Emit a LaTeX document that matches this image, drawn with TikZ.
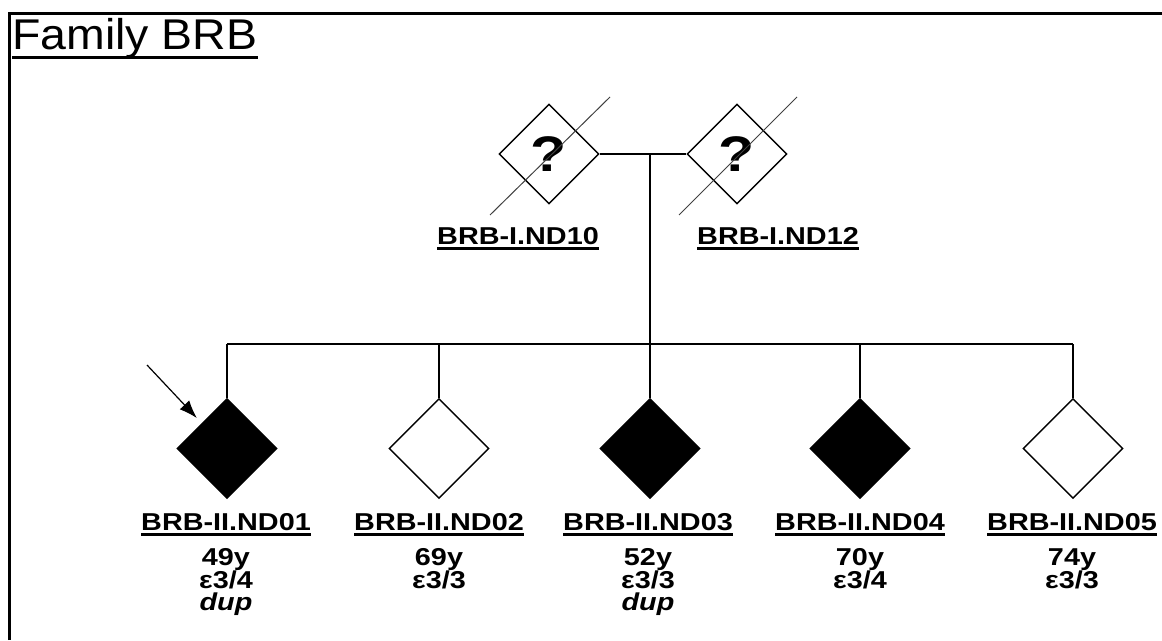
\documentclass[tikz,border=0pt]{standalone}
\usepackage{fontspec}
\usetikzlibrary{shapes.geometric,arrows.meta,calc}
\newfontfamily\titlefont[FakeStretch=1.08]{Liberation Sans}
\newfontfamily\labfont[FakeStretch=1.18]{Liberation Sans}

\begin{document}
\begin{tikzpicture}[x=1pt,y=-1pt,
  person/.style={diamond,draw,line width=1.4pt,minimum width=100pt,minimum height=100pt,
                 inner sep=0pt,aspect=1,fill=white},
  affected/.style={person,fill=black},
  conn/.style={line width=1.4pt},
  slash/.style={line width=1pt,black!75},
  ul/.style={line width=2.5pt},
  lab/.style={font=\labfont\bfseries\fontsize{24.4}{23}\selectfont,inner sep=0pt,anchor=base},
  qmark/.style={font=\labfont\bfseries\fontsize{50}{50}\selectfont}]

\useasboundingbox (0,0) rectangle (1162,640);

% frame and title
\draw[line width=3pt] (9,640) -- (9,13.5) -- (1162,13.5);
\node[font=\titlefont\fontsize{43}{43}\selectfont,inner sep=0pt,anchor=base west] (title) at (12,49) {Family BRB};
\draw[line width=3pt] ([yshift=-8.5pt]title.base west) -- ([yshift=-8.5pt]title.base east);

% generation I
\node[person,qmark] (p1) at (549,154) {?};
\node[person,qmark] (p2) at (737,154) {?};
\draw[slash] ($(p1)+(-59,61)$) -- ($(p1)+(61,-57)$);
\draw[slash] ($(p2)+(-58,61)$) -- ($(p2)+(60,-57)$);
\node[lab] (l10) at (518,244) {BRB-I.ND10};
\node[lab] (l12) at (778,244) {BRB-I.ND12};
\foreach \n in {l10,l12}
  \draw[ul] ([yshift=-4.5pt]\n.base west) -- ([yshift=-4.5pt]\n.base east);

% generation II
\node[affected] (c1) at (227,448.5) {};
\node[person]   (c2) at (439,448.5) {};
\node[affected] (c3) at (650,448.5) {};
\node[affected] (c4) at (860,448.5) {};
\node[person]   (c5) at (1073,448.5) {};

% mating, descent and sibship lines
\coordinate (sib) at (650,344);
\draw[conn] (p1.east) -- (p2.west);
\draw[conn] (c3.north |- p1.east) -- (c3.north |- sib);
\draw[conn] (c1.north |- sib) -- (c5.north |- sib);
\foreach \i in {1,...,5}
  \draw[conn] (c\i.north) -- (c\i.north |- sib);

% proband arrow
\coordinate (arrowtail) at (147,365);
\draw[line width=1.2pt,-{Latex[length=18pt,width=13pt]},shorten >=7pt] (arrowtail) -- (c1.north west);

% labels
\foreach \i/\x/\name/\age/\geno in {1/226/01/49/4, 2/439/02/69/3, 3/648/03/52/3, 4/860/04/70/4, 5/1072/05/74/3}{
  \node[lab] (l\i) at (\x,530) {BRB-II.ND\name};
  \draw[ul] ([yshift=-4.5pt]l\i.base west) -- ([yshift=-4.5pt]l\i.base east);
  \node[lab] (a\i) at (\x,565) {\age y};
  \node[lab] (g\i) at (\x,588) {ε3/\geno};
}
\foreach \i/\x in {1/226, 3/648}
  \node[lab,font=\labfont\bfseries\itshape\fontsize{24.4}{23}\selectfont] (d\i) at (\x,610) {dup};

\end{tikzpicture}
\end{document}
